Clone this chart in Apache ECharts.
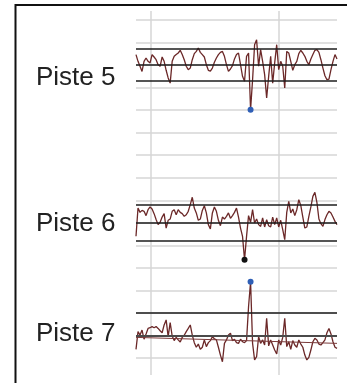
<!DOCTYPE html>
<html>
<head>
<meta charset="utf-8">
<script src="https://cdn.jsdelivr.net/npm/echarts@6/dist/echarts.min.js"></script>
<style>
  html, body { margin: 0; padding: 0; background: #fff; }
  #main { width: 347px; height: 383px; }
</style>
</head>
<body>
<div id="main"></div>
<script>
// track labels
var tracks = ["Piste 5", "Piste 6", "Piste 7"];

// signal values, in units of the track's control band (black lines at +1 / 0 / -1)
var piste5 = [0.65, 0.23, -0.08, -0.4, 0.23, 0.44, 0.23, 0.13, 0.65, 0.5,
  0.33, 0.02, -0.08, 0.5, 0.23, -0.33, -0.81, -1.13, 0.23, 0.54,
  0.65, 0.75, 0.92, 0.65, 0.33, -0.08, -0.29, -0.19, 0.33, 0.71,
  0.85, 1.06, 0.79, 0.65, 0.5, 0.02, -0.33, -0.38, -0.19, 0.17,
  0.44, 0.65, 0.79, 0.85, 0.54, 0.02, -0.4, -0.25, -0.04, 0.38,
  0.65, 0.75, 0.02, -0.71, -1.02, 0.54, 0.75, -2.79, -0.92, 1.27,
  1.58, -0.08, 0.96, 0.23, -0.6, -2.06, -0.71, 0.54, -1.13, 0.13,
  1.27, -0.29, 0.23, -0.08, -1.44, 0.85, 0.75, 0.23, -0.33, 0.02,
  0.23, 0.71, 0.92, 0.75, 0.54, 0.23, 0.02, 0.38, 0.65, 0.92,
  0.96, 0.79, 0.33, -0.19, -0.67, -0.92, -0.88, -0.29, 0.23, 0.65, 0.38];

var piste6 = [-0.74, 0.83, 0.59, 0.7, 0.65, 0.41, 0.74, 0.89, 0.78, 0.52,
  0.19, -0.09, 0.04, 0.33, 0.52, -0.28, 0.15, 0.22, 0.65, 0.74,
  0.46, 0.74, 0.59, 0.52, 0.37, 0.46, 0.65, 1.02, 1.43, 0.83,
  0.56, 0.15, 0.22, 0.7, 0.96, 0.56, -0.09, -0.33, 0.56, 0.89,
  0.65, 0.15, -0.15, 0.33, 0.22, 0.37, 0.56, 0.26, 0.41, 0.59,
  0.83, 0.33, -0.28, -0.74, -2.04, -0.74, 0.41, 0.04, 0.74, 0,
  0.22, -0.09, -0.19, 0.28, -0.22, 0.19, -0.15, -0.22, 0.33, -0.09,
  0.28, -0.22, 0.15, -0.37, -0.93, 0.59, 1.2, 0.56, 0.78, 0.41,
  0.74, 1.3, 0.96, 0.33, -0.28, -0.22, 0.37, 0.89, 1.48, 1.7,
  1.15, 0.22, -0.04, -0.19, 0.19, 0.46, 0.65, 0.56, 0.33, 0.09, -0.09];

var piste7 = [-0.58, 0.19, 0.04, 0.26, -0.14, 0.09, 0.33, 0.36, 0.41, 0.36,
  0.41, 0.33, 0.23, 0.14, 0.48, 0.7, -0.03, 0.58, 0, -0.2,
  -0.06, -0.17, -0.26, -0.06, 0.03, 0.19, 0.33, 0.48, 0.04, -0.29,
  -0.49, -0.35, -0.58, -0.49, -0.17, -0.46, -0.29, -0.2, -0.03, -0.12,
  -0.17, -0.49, -0.83, -1.12, -0.32, -0.17, 0.04, 0.12, -0.2, -0.14,
  -0.29, -0.32, -0.14, -0.25, -0.29, -0.2, 1.28, 2.36, -0.32, -1.04,
  -0.9, -0.03, -0.32, -0.17, -0.39, 0.77, -0.43, -0.17, -0.39, -0.61,
  -0.78, -0.17, -0.39, -0.06, 0.77, -0.46, -0.25, -0.58, -0.2, -0.39,
  -0.49, -0.17, -0.35, -0.49, -0.83, -1.04, -0.93, -0.61, -0.25, -0.1,
  -0.17, -0.35, -0.39, -0.29, -0.17, 0.14, 0.33, 0.09, -0.25, -0.49, -0.54];

// control lines per track, and the trend line of track 7 (start, end)
var bands5 = [1, 0, -1];
var bands6 = [1, 0, -1];
var bands7 = [1, 0];
var trend7 = [-0.06, -0.32];

var myChart = echarts.init(document.getElementById("main"));

var gridColor = "#d6d6d6";
var lineColor = "#6b2828";
var blue = "#2f5fb6";
var labelFont = "26px 'Liberation Sans', Arial, sans-serif";

function pairs(vals) {
  return vals.map(function (v, i) { return [i, v]; });
}

function bandLines(list, strong) {
  return list.map(function (v) {
    return { yAxis: v, lineStyle: { color: v === 0 && strong ? "#4a4a4a" : "#1c1c1c", width: v === 0 && strong ? 2 : 1.5, type: "solid" } };
  });
}

function trackSeries(idx, vals, bands, pointType, pointColor, extraLines) {
  var lines = bandLines(bands, idx === 4);
  if (extraLines) lines = lines.concat(extraLines);
  return {
    type: "line",
    xAxisIndex: idx,
    yAxisIndex: idx,
    data: pairs(vals),
    showSymbol: false,
    clip: false,
    silent: true,
    lineStyle: { color: lineColor, width: 1.3 },
    markLine: {
      silent: true,
      symbol: "none",
      label: { show: false },
      data: lines
    },
    markPoint: {
      silent: true,
      symbol: "circle",
      symbolSize: 6,
      itemStyle: { color: pointColor },
      label: { show: false },
      data: [{ type: pointType }]
    }
  };
}

var hidden = { show: false };

var option = {
  animation: false,
  grid: [
    { left: 23, right: 10, top: 11, bottom: 8 },     // vertical grid lines
    { left: 136, right: 10, top: 20, bottom: 25 },   // horizontal grid lines
    { left: 136, right: 10, top: 33, bottom: 270 },  // Piste 5
    { left: 136, right: 10, top: 187, bottom: 106 }, // Piste 6
    { left: 136, right: 10, top: 267, bottom: 1 }    // Piste 7
  ],
  xAxis: [
    {
      gridIndex: 0, type: "value", min: 0, max: 314 / 128, interval: 1,
      axisLine: hidden, axisTick: hidden, axisLabel: hidden,
      splitLine: { show: true, showMinLine: false, showMaxLine: false, lineStyle: { color: gridColor, width: 1.5 } }
    },
    { gridIndex: 1, type: "value", min: 0, max: 1, show: false },
    { gridIndex: 2, type: "value", min: 0, max: 100, show: false },
    { gridIndex: 3, type: "value", min: 0, max: 100, show: false },
    { gridIndex: 4, type: "value", min: 0, max: 100, show: false }
  ],
  yAxis: [
    { gridIndex: 0, type: "value", min: 0, max: 1, show: false },
    {
      gridIndex: 1, type: "value", min: 0, max: 15, interval: 1,
      axisLine: hidden, axisTick: hidden, axisLabel: hidden,
      splitLine: { show: true, lineStyle: { color: gridColor, width: 1.5 } }
    },
    { gridIndex: 2, type: "value", min: -3, max: 2, show: false },
    { gridIndex: 3, type: "value", min: -3, max: 2, show: false },
    { gridIndex: 4, type: "value", min: -2, max: 3, show: false }
  ],
  series: [
    trackSeries(2, piste5, bands5, "min", blue),
    trackSeries(3, piste6, bands6, "min", "#111"),
    trackSeries(4, piste7, bands7, "max", blue, [
      [
        { coord: [0, trend7[0]], lineStyle: { color: "#7a3a3a", width: 1, type: "solid" } },
        { coord: [piste7.length - 1, trend7[1]] }
      ]
    ])
  ],
  graphic: [
    {
      type: "rect",
      shape: { x: 15.5, y: 5, width: 400, height: 400 },
      style: { fill: "none", stroke: "#111", lineWidth: 2 },
      silent: true
    },
    {
      type: "text", left: 36, top: 65,
      style: { text: tracks[0], font: labelFont, fill: "#222" }
    },
    {
      type: "text", left: 36, top: 211,
      style: { text: tracks[1], font: labelFont, fill: "#222" }
    },
    {
      type: "text", left: 36, top: 321,
      style: { text: tracks[2], font: labelFont, fill: "#222" }
    }
  ]
};

myChart.setOption(option);
</script>
</body>
</html>
